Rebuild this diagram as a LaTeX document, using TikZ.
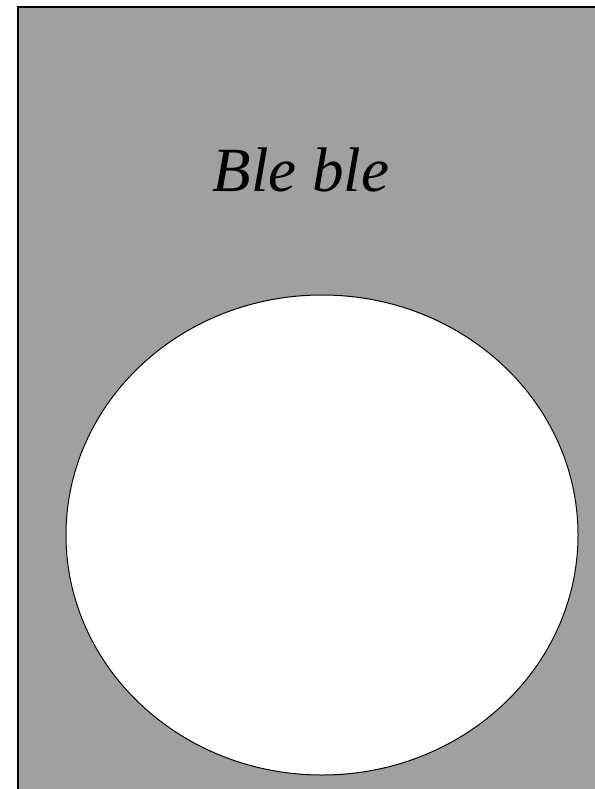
\documentclass[tikz,border=0pt]{standalone}
\usepackage{fontspec}
\setmainfont{Liberation Serif}
\usetikzlibrary{shapes.geometric}
\definecolor{bggray}{HTML}{A0A0A0}
\begin{document}
\begin{tikzpicture}[x=1pt,y=-1pt,
  frame/.style={draw=black,line width=2pt,fill=bggray},
  hole/.style={draw=black,line width=1pt,fill=white}]
\useasboundingbox (0,0) rectangle (594,789);
\path[frame] (18,7) rectangle (610,810);
\node[hole,ellipse,minimum width=512pt,minimum height=480pt,inner sep=0pt] (circ) at (322,535) {};
\node[anchor=base,font=\fontsize{63}{75}\selectfont\itshape,inner sep=0pt] (title) at (301,191) {Ble ble};
\end{tikzpicture}
\end{document}
